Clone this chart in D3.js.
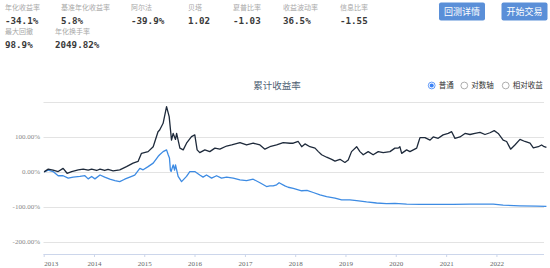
<!DOCTYPE html>
<html>
<head>
<meta charset="utf-8">
<script src="https://cdn.jsdelivr.net/npm/d3@7"></script>
<style>
  body { margin: 0; background: #fff; }
  svg { display: block; }
</style>
</head>
<body>
<script>
// stats at the top
const statLabels = ["年化收益率", "基准年化收益率", "阿尔法", "贝塔", "夏普比率", "收益波动率", "信息比率", "最大回撤", "年化换手率"];
const statValues = ["-34.1%", "5.8%", "-39.9%", "1.02", "-1.03", "36.5%", "-1.55", "98.9%", "2049.82%"];
const buttonLabels = ["回测详情", "开始交易"];
const radioLabels = ["普通", "对数轴", "相对收益"];
const chartTitle = "累计收益率";

const yTicks = [200, 100, 0, -100, -200];
const yTickLabels = ["", "100.00%", "0.00%", "-100.00%", "-200.00%"];
const xTickYears = [2013, 2014, 2015, 2016, 2017, 2018, 2019, 2020, 2021, 2022];

// benchmark (black)
const benchDates = ["2013-01-04","2013-02-03","2013-03-10","2013-04-16","2013-05-22","2013-06-20","2013-07-23","2013-09-09","2013-10-15","2013-11-20","2013-12-15",
  "2014-01-20","2014-02-14","2014-03-20","2014-04-13","2014-05-20","2014-07-07","2014-08-25","2014-10-12","2014-11-17","2014-12-12",
  "2015-01-29","2015-03-07","2015-04-11","2015-04-23","2015-05-18","2015-06-12","2015-07-01","2015-07-18","2015-07-30","2015-08-16","2015-08-24","2015-09-17","2015-10-11","2015-11-04","2015-12-10",
  "2016-01-03","2016-01-20","2016-02-08","2016-03-16","2016-04-21","2016-05-28","2016-07-03","2016-08-21","2016-09-27","2016-11-26",
  "2017-01-13","2017-03-02","2017-04-20","2017-05-26","2017-07-01","2017-08-19","2017-10-06","2017-11-24","2017-12-18",
  "2018-01-23","2018-02-17","2018-03-13","2018-04-18","2018-05-25","2018-06-18","2018-07-12","2018-08-17","2018-09-23","2018-10-17","2018-11-22","2018-12-28",
  "2019-01-21","2019-02-14","2019-03-23","2019-04-16","2019-05-10","2019-06-15","2019-07-21","2019-08-27","2019-10-02","2019-11-20","2019-12-26",
  "2020-01-19","2020-01-31","2020-02-13","2020-03-20","2020-04-13","2020-06-01","2020-06-12","2020-06-25","2020-07-31","2020-09-06","2020-09-29","2020-11-04","2020-12-10",
  "2021-01-16","2021-02-10","2021-03-06","2021-04-11","2021-05-18","2021-06-23","2021-07-29","2021-09-04","2021-10-10","2021-11-15","2021-12-16",
  "2022-01-14","2022-02-19","2022-03-16","2022-04-14","2022-05-15","2022-06-21","2022-07-27","2022-09-02","2022-09-26","2022-11-01","2022-11-25","2022-12-14","2022-12-30"];
const benchValues = [0, 8, 5, 1, 10, -4, 1, 6, 8, 5, 8,
  4, 8, 4, 7, 3, 6, 15, 25, 30, 53,
  58, 72, 115, 120, 139, 187, 158, 91, 110, 93, 110, 68, 63, 82, 101,
  106, 63, 55, 63, 58, 68, 65, 74, 77, 84,
  77, 82, 77, 65, 72, 77, 84, 82, 82,
  87, 72, 80, 72, 68, 58, 49, 42, 36, 31, 36, 27,
  34, 58, 72, 58, 49, 58, 49, 58, 55, 58, 68,
  68, 72, 53, 63, 58, 68, 82, 98, 98, 91, 100, 96, 106,
  110, 115, 96, 100, 110, 107, 110, 113, 107, 112, 118,
  110, 91, 87, 65, 77, 93, 87, 82, 69, 72, 77, 72, 70];

// strategy (blue)
const stratDates = ["2013-01-04","2013-02-03","2013-03-10","2013-04-16","2013-05-22","2013-06-28","2013-08-03","2013-09-21","2013-10-27","2013-11-20","2013-12-15",
  "2014-01-08","2014-02-14","2014-03-20","2014-04-26","2014-06-02","2014-07-07","2014-08-12","2014-09-18","2014-10-24","2014-11-30","2014-12-24",
  "2015-01-29","2015-03-07","2015-04-11","2015-04-23","2015-05-18","2015-06-12","2015-06-24","2015-07-03","2015-07-10","2015-07-15","2015-07-30","2015-08-09","2015-08-16","2015-09-04","2015-09-29","2015-11-04","2015-11-28",
  "2016-01-03","2016-02-08","2016-03-03","2016-03-28","2016-05-04","2016-06-09","2016-07-15","2016-08-21","2016-10-08","2016-11-26",
  "2017-01-13","2017-03-02","2017-04-20","2017-06-07","2017-07-01","2017-07-25","2017-08-19","2017-09-06","2017-10-18","2017-11-11","2017-12-18",
  "2018-02-17","2018-03-28","2018-05-12","2018-06-30","2018-08-17","2018-10-17","2018-12-04",
  "2019-02-02","2019-03-23","2019-06-03","2019-08-15","2019-10-26","2019-12-26",
  "2020-03-20","2020-06-25","2020-10-23","2021-02-22","2021-06-23","2021-09-27","2021-12-09",
  "2022-02-19","2022-06-21","2022-10-19","2022-12-30"];
const stratValues = [0, 5, 1, -11, -11, -18, -15, -13, -11, -20, -13,
  -20, -9, -15, -21, -25, -28, -21, -15, -9, 10, 6,
  15, 25, 44, 49, 58, 63, 49, 40, 5, 1, 20, 5, 20, -13, -28, -13, 1,
  1, -9, -15, -9, -18, -11, -18, -15, -18, -23,
  -25, -21, -31, -42, -40, -40, -37, -31, -40, -44, -47,
  -54, -53, -59, -66, -71, -75, -80,
  -80, -82, -86, -89, -91, -90,
  -92, -93, -93, -93, -92, -92, -92,
  -95, -97, -98, -98.5];

const W = 550, H = 268;
const parse = d3.timeParse("%Y-%m-%d");
const FONT = "'Noto Sans CJK SC', 'Noto Sans', sans-serif";
const MONO = "'DejaVu Sans Mono', monospace";

const svg = d3.select("body").append("svg")
    .attr("width", W)
    .attr("height", H)
    .style("font-family", FONT);

// stats block
const statPos = [
    {x: 5, row: 0}, {x: 61, row: 0}, {x: 131, row: 0}, {x: 188, row: 0}, {x: 233, row: 0},
    {x: 283, row: 0}, {x: 340, row: 0}, {x: 5, row: 1}, {x: 55, row: 1}
];
const stats = svg.append("g").selectAll("g")
    .data(statLabels)
    .join("g")
    .attr("transform", (d, i) => `translate(${statPos[i].x},${statPos[i].row * 24})`);
stats.append("text")
    .attr("y", 10)
    .attr("font-size", 7)
    .attr("fill", "#a8a8a8")
    .text(d => d);
stats.append("text")
    .attr("y", 24)
    .attr("font-family", MONO)
    .attr("font-size", 9.2)
    .attr("font-weight", "bold")
    .attr("fill", "#3a3a3a")
    .text((d, i) => statValues[i]);

// buttons
const btn = svg.append("g").selectAll("g")
    .data(buttonLabels)
    .join("g")
    .attr("transform", (d, i) => `translate(${439 + i * 62.5},2.5)`);
btn.append("rect")
    .attr("width", 46)
    .attr("height", 18)
    .attr("rx", 2)
    .attr("fill", "#5a8fd8");
btn.append("text")
    .attr("x", 23)
    .attr("y", 12.3)
    .attr("text-anchor", "middle")
    .attr("font-size", 9)
    .attr("fill", "#fff")
    .text(d => d);

// title
svg.append("text")
    .attr("x", 277)
    .attr("y", 89)
    .attr("text-anchor", "middle")
    .attr("font-size", 9.5)
    .attr("fill", "#4f6174")
    .text(chartTitle);

// radio group
const radioX = [431.7, 464.3, 505.7];
const radio = svg.append("g").selectAll("g")
    .data(radioLabels)
    .join("g")
    .attr("transform", (d, i) => `translate(${radioX[i]},85.5)`);
radio.append("circle")
    .attr("r", 3.4)
    .attr("fill", "#fff")
    .attr("stroke", (d, i) => i === 0 ? "#3b82f6" : "#9a9a9a")
    .attr("stroke-width", 0.8);
radio.filter((d, i) => i === 0).append("circle")
    .attr("r", 2)
    .attr("fill", "#3b82f6");
radio.append("text")
    .attr("x", 7)
    .attr("y", 2.6)
    .attr("font-size", 7.5)
    .attr("fill", "#333")
    .text(d => d);

// chart
const x = d3.scaleTime()
    .domain([new Date(2013, 0, 1), new Date(2023, 0, 1)])
    .range([43.7, 546.7]);
const y = d3.scaleLinear()
    .domain([-235, 200])
    .range([254, 102]);
const plotRight = 544;

svg.append("g").selectAll("line")
    .data(yTicks)
    .join("line")
    .attr("x1", 43.5)
    .attr("x2", plotRight)
    .attr("y1", d => Math.round(y(d)) + 0.5)
    .attr("y2", d => Math.round(y(d)) + 0.5)
    .attr("stroke", "#e3e3e3")
    .attr("stroke-width", 1);

svg.append("g").selectAll("text")
    .data(yTicks)
    .join("text")
    .attr("x", 40)
    .attr("y", d => y(d) + 2.5)
    .attr("text-anchor", "end")
    .attr("font-family", "'Liberation Serif', serif")
    .attr("font-size", 7)
    .attr("fill", "#888")
    .text((d, i) => yTickLabels[i]);

// x axis
const xAxis = svg.append("g")
    .attr("transform", "translate(0,254)")
    .call(d3.axisBottom(x)
        .tickValues(xTickYears.map(yr => new Date(yr, 0, 1)))
        .tickFormat(d3.timeFormat("%Y"))
        .tickSize(3)
        .tickSizeOuter(0));
xAxis.select(".domain").attr("stroke", "#ccd6eb").attr("d", `M43.5,0.5H${plotRight}`);
xAxis.selectAll(".tick line").attr("stroke", "#ccd6eb");
xAxis.selectAll(".tick text")
    .attr("font-family", "'Liberation Serif', serif")
    .attr("font-size", 7)
    .attr("fill", "#666")
    .attr("dy", "0.9em");
xAxis.select(".tick text").attr("text-anchor", "start");

const line = d3.line()
    .x(d => x(d[0]))
    .y(d => y(d[1]));

svg.append("path")
    .datum(stratDates.map((d, i) => [parse(d), stratValues[i]]))
    .attr("fill", "none")
    .attr("stroke", "#3d8be3")
    .attr("stroke-width", 1.3)
    .attr("stroke-linejoin", "round")
    .attr("d", line);

svg.append("path")
    .datum(benchDates.map((d, i) => [parse(d), benchValues[i]]))
    .attr("fill", "none")
    .attr("stroke", "#1e2a3b")
    .attr("stroke-width", 1.3)
    .attr("stroke-linejoin", "round")
    .attr("d", line);
</script>
</body>
</html>
